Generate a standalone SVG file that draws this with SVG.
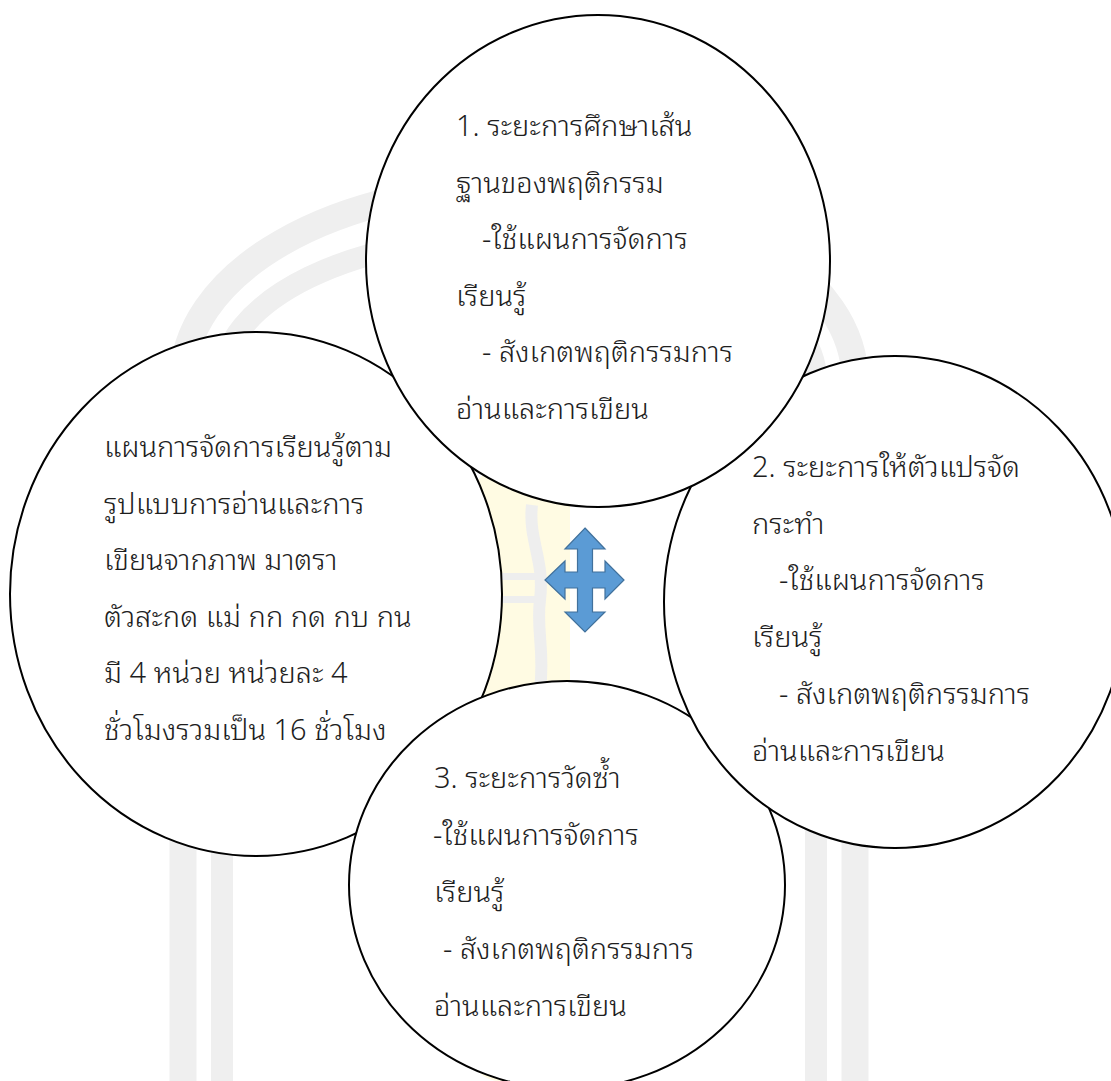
<svg xmlns="http://www.w3.org/2000/svg" width="1111" height="1081" viewBox="0 0 1111 1081">
  <style>
    .node { fill: #ffffff; stroke: #000000; stroke-width: 2; }
    .t { font-family: "Noto Sans Thai Looped", "Noto Sans Thai", "Noto Sans", "DejaVu Sans", sans-serif; font-size: 29px; font-weight: 300; fill: #1e1e1e; }
    .wm { fill: none; stroke: #efefef; }
  </style>
  <rect width="1111" height="1081" fill="#ffffff"/>
  <g id="watermark">
    <path class="wm" stroke-width="27" d="M183,1081 L183,380 A336,194 0 0 1 855,380 L855,1081"/>
    <path class="wm" stroke-width="22" d="M222,1081 L222,380 A297,145 0 0 1 816,380 L816,1081"/>
    <rect x="470" y="470" width="100" height="611" rx="30" fill="#fffbe3"/>
    <path d="M532,505 C528,540 545,560 540,600 C536,630 545,650 540,690" fill="none" stroke="#eeeeee" stroke-width="12"/>
    <rect x="500" y="573" width="36" height="7" fill="#eeeeee"/>
    <rect x="500" y="596" width="36" height="7" fill="#eeeeee"/>
  </g>
  <g id="node-left">
    <ellipse class="node" cx="256" cy="594" rx="246" ry="262"/>
    <text class="t" x="104" y="457">แผนการจัดการเรียนรู้ตาม</text>
    <text class="t" x="104" y="513.5">รูปแบบการอ่านและการ</text>
    <text class="t" x="104" y="570">เขียนจากภาพ มาตรา</text>
    <text class="t" x="104" y="626.5">ตัวสะกด แม่ กก กด กบ กน</text>
    <text class="t" x="104" y="683">มี 4 หน่วย หน่วยละ 4</text>
    <text class="t" x="104" y="740">ชั่วโมงรวมเป็น 16 ชั่วโมง</text>
  </g>
  <g id="node-3">
    <ellipse class="node" cx="567" cy="885" rx="218" ry="204"/>
    <text class="t" x="434" y="788">3. ระยะการวัดซ้ำ</text>
    <text class="t" x="433" y="845">-ใช้แผนการจัดการ</text>
    <text class="t" x="434" y="902">เรียนรู้</text>
    <text class="t" x="443" y="959">- สังเกตพฤติกรรมการ</text>
    <text class="t" x="434" y="1016">อ่านและการเขียน</text>
  </g>
  <g id="node-2">
    <ellipse class="node" cx="895" cy="602" rx="231" ry="246"/>
    <text class="t" x="752" y="477">2. ระยะการให้ตัวแปรจัด</text>
    <text class="t" x="752" y="533.5">กระทำ</text>
    <text class="t" x="779" y="590">-ใช้แผนการจัดการ</text>
    <text class="t" x="752" y="647">เรียนรู้</text>
    <text class="t" x="779" y="704">- สังเกตพฤติกรรมการ</text>
    <text class="t" x="752" y="761">อ่านและการเขียน</text>
  </g>
  <g id="node-1">
    <ellipse class="node" cx="598" cy="261" rx="232" ry="246"/>
    <text class="t" x="456" y="136">1. ระยะการศึกษาเส้น</text>
    <text class="t" x="456" y="192.5">ฐานของพฤติกรรม</text>
    <text class="t" x="482" y="249">-ใช้แผนการจัดการ</text>
    <text class="t" x="456" y="305.5">เรียนรู้</text>
    <text class="t" x="482" y="362">- สังเกตพฤติกรรมการ</text>
    <text class="t" x="456" y="418.5">อ่านและการเขียน</text>
  </g>
  <g id="connectors">
    <path id="quad-arrow" fill="#5b9bd5" stroke="#41719c" stroke-width="1.2" stroke-linejoin="miter"
      d="M585,528 L605,549 L592.5,549 L592.5,572 L605,572 L605,561 L624,580 L605,599 L605,588 L592.5,588 L592.5,612 L605,612 L585,632 L565,612 L577.5,612 L577.5,588 L565,588 L565,599 L545,580 L565,561 L565,572 L577.5,572 L577.5,549 L565,549 Z"/>
  </g>
</svg>
